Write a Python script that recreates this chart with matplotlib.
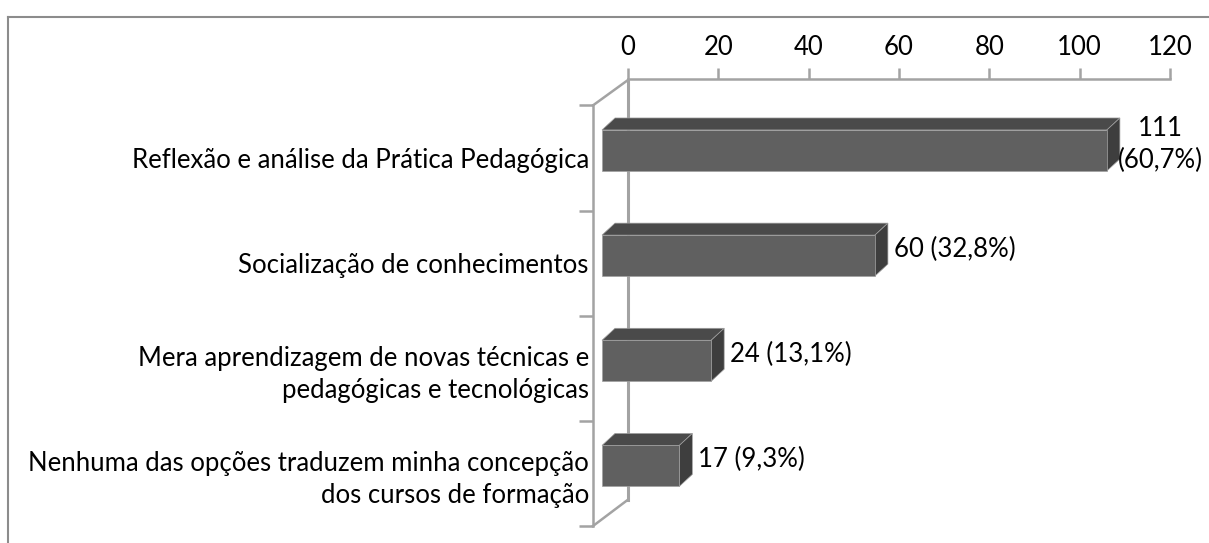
import matplotlib
matplotlib.use("Agg")
import matplotlib.pyplot as plt
from matplotlib.patches import Polygon
from matplotlib.lines import Line2D

# ---- data ----
categories = [
    "Reflexão e análise da Prática Pedagógica",
    "Socialização de conhecimentos",
    "Mera aprendizagem de novas técnicas e\npedagógicas e tecnológicas",
    "Nenhuma das opções traduzem minha concepção\ndos cursos de formação",
]
values = [111, 60, 24, 17]
value_labels = ["111\n(60,7%)", "60 (32,8%)", "24 (13,1%)", "17 (9,3%)"]
xticks = [0, 20, 40, 60, 80, 100, 120]

FONT = "Lato"
FS = 18.5
LS = 1.35

W, H = 1209, 543
fig = plt.figure(figsize=(W / 100, H / 100), dpi=100)

# pixel geometry helpers
PX0 = 628.0          # pixel of value 0 (back wall)
KX = 4.517           # px per value unit
PY0 = 158.0          # pixel of first category centre (front axis)
KY = 105.25          # px per category

ax_left_px, ax_right_px = 593, 1209
ax_top_px, ax_bot_px = 79, 526
ax = fig.add_axes([ax_left_px / W, 1 - ax_bot_px / H,
                   (ax_right_px - ax_left_px) / W, (ax_bot_px - ax_top_px) / H])
ax.set_xlim((ax_left_px - PX0) / KX, (ax_right_px - PX0) / KX)
ax.set_ylim((ax_bot_px - PY0) / KY, (ax_top_px - PY0) / KY)

def dx(px):
    return px / KX

def dy(px):
    return px / KY

wall_c = "#a3a3a3"
# top axis (value axis)
ax.xaxis.tick_top()
ax.set_xticks(xticks)
ax.set_xticklabels([str(t) for t in xticks], fontfamily=FONT, fontsize=FS)
ax.tick_params(axis="x", which="major", direction="out", length=8, width=1.8,
               color=wall_c, pad=6)
for s in ["bottom", "right"]:
    ax.spines[s].set_visible(False)
ax.spines["top"].set_bounds(0, 120)
ax.spines["top"].set_color(wall_c)
ax.spines["top"].set_linewidth(1.8)

# left (front category axis)
n = len(categories)
ax.set_yticks(range(n))
ax.set_yticklabels(categories, fontfamily=FONT, fontsize=FS, linespacing=LS)
ax.set_yticks([i - 0.5 for i in range(n + 1)], minor=True)
ax.tick_params(axis="y", which="major", length=0, pad=3)
ax.tick_params(axis="y", which="minor", length=10, width=1.8, color=wall_c,
               direction="out")
ax.spines["left"].set_bounds(-0.5, n - 0.5)
ax.spines["left"].set_color(wall_c)
ax.spines["left"].set_linewidth(1.8)

# back wall and connectors
xf = (ax_left_px - PX0) / KX
y_top_back = (80 - PY0) / KY
y_bot_back = (500 - PY0) / KY
ax.add_line(Line2D([0, 0], [y_top_back, y_bot_back], color=wall_c, lw=2.2, clip_on=False))
ax.add_line(Line2D([xf, 0], [-0.5, y_top_back], color=wall_c, lw=1.8, clip_on=False))
ax.add_line(Line2D([xf, 0], [n - 0.5, y_bot_back], color=wall_c, lw=1.8, clip_on=False))

# bars (3D look)
x0 = dx(602 - PX0)
ddx, ddy = dx(13), -dy(12)
half_h = dy(20.5)
front_c, top_c, side_c = "#606060", "#4a4a4a", "#3e3e3e"
edge_c = "#a0a0a0"
for i, (v, lab) in enumerate(zip(values, value_labels)):
    yc = i - dy(7.5)
    yt, yb = yc - half_h, yc + half_h
    x1 = x0 + v * 1.007
    front = Polygon([(x0, yb), (x1, yb), (x1, yt), (x0, yt)], closed=True,
                    facecolor=front_c, edgecolor=edge_c, lw=0.5, zorder=3)
    top = Polygon([(x0, yt), (x1, yt), (x1 + ddx, yt + ddy), (x0 + ddx, yt + ddy)],
                  closed=True, facecolor=top_c, edgecolor=edge_c, lw=0.5, zorder=3)
    side = Polygon([(x1, yt), (x1, yb), (x1 + ddx, yb + ddy), (x1 + ddx, yt + ddy)],
                   closed=True, facecolor=side_c, edgecolor=edge_c, lw=0.5, zorder=3)
    for p in (top, side, front):
        ax.add_patch(p)
    ly = yc - dy(6)
    if "\n" in lab:
        ax.text(dx(1160 - PX0), ly, lab, ha="center", va="center",
                fontfamily=FONT, fontsize=FS, linespacing=LS, zorder=4)
    else:
        ax.text(x1 + ddx + dx(6), ly, lab, ha="left", va="center",
                fontfamily=FONT, fontsize=FS, zorder=4)

# outer chart border (partially cropped in the reference)
bc = "#8c8c8c"
fig.add_artist(Line2D([8 / W, 8 / W], [0, 1 - 17 / H], color=bc, lw=1.5))
fig.add_artist(Line2D([8 / W, 1], [1 - 17 / H, 1 - 17 / H], color=bc, lw=1.5))

fig.savefig("out.png", dpi=100)
